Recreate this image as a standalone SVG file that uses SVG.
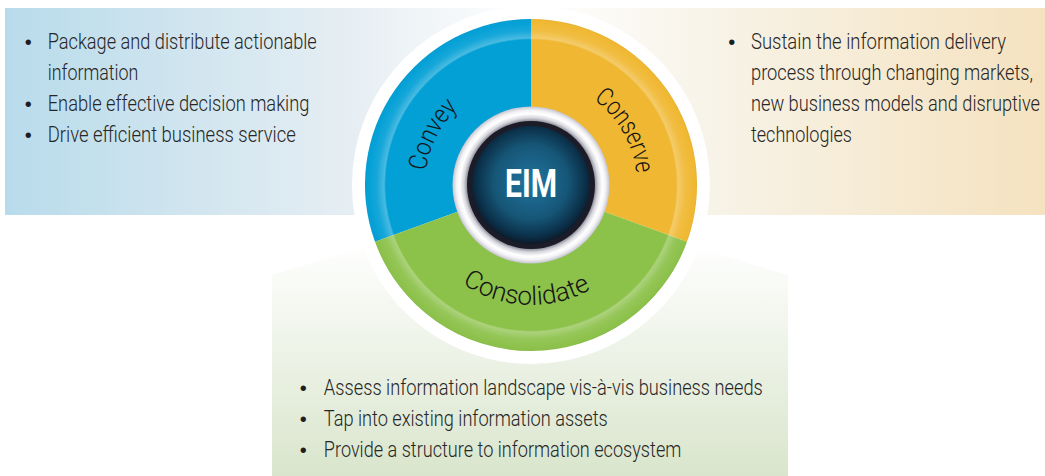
<svg xmlns="http://www.w3.org/2000/svg" width="1045" height="476" viewBox="0 0 1045 476">
<style>
.body{font-family:"Liberation Sans Narrow","Roboto","Liberation Sans",sans-serif;font-size:21.5px;font-weight:300;fill:#262626;}
.bul{font-family:"Liberation Sans",sans-serif;font-size:20px;fill:#1e1e1e;text-anchor:middle;}
.arc{font-family:"Liberation Sans Narrow","Roboto","Liberation Sans",sans-serif;font-size:26px;font-weight:300;fill:#151515;}
.eim{font-family:"Liberation Sans Narrow","Roboto","Liberation Sans",sans-serif;font-size:38px;font-weight:bold;fill:#ffffff;text-anchor:middle;}
</style>
<defs>
<linearGradient id="gL" gradientUnits="userSpaceOnUse" x1="5" y1="0" x2="531" y2="0">
<stop offset="0" stop-color="#b8dbeb"/><stop offset="0.66" stop-color="#e6eef3"/><stop offset="1" stop-color="#ffffff"/>
</linearGradient>
<linearGradient id="gR" gradientUnits="userSpaceOnUse" x1="531" y1="0" x2="1045" y2="0">
<stop offset="0" stop-color="#ffffff"/><stop offset="0.35" stop-color="#f7f3e8"/><stop offset="1" stop-color="#f5e2bf"/>
</linearGradient>
<linearGradient id="gB" gradientUnits="userSpaceOnUse" x1="0" y1="240" x2="0" y2="476">
<stop offset="0" stop-color="#ffffff"/><stop offset="1" stop-color="#d9e5cc"/>
</linearGradient>
<radialGradient id="gRim" gradientUnits="userSpaceOnUse" cx="531" cy="185" r="166">
<stop offset="0.875" stop-color="#ffffff" stop-opacity="0"/>
<stop offset="0.885" stop-color="#ffffff" stop-opacity="0.28"/>
<stop offset="0.93" stop-color="#ffffff" stop-opacity="0.08"/>
<stop offset="0.985" stop-color="#ffffff" stop-opacity="0"/>
<stop offset="1" stop-color="#000000" stop-opacity="0.05"/>
</radialGradient>
<radialGradient id="gRing" gradientUnits="userSpaceOnUse" cx="531" cy="185" r="80">
<stop offset="0.78" stop-color="#6f6f7c"/>
<stop offset="0.84" stop-color="#d6d6dd"/>
<stop offset="0.89" stop-color="#ffffff"/>
<stop offset="0.93" stop-color="#f4f4f7"/>
<stop offset="1" stop-color="#b4b4c0"/>
</radialGradient>
<radialGradient id="gCore" gradientUnits="userSpaceOnUse" cx="531" cy="182" r="62">
<stop offset="0" stop-color="#22749e"/>
<stop offset="0.6" stop-color="#165677"/>
<stop offset="0.88" stop-color="#0b3049"/>
<stop offset="1" stop-color="#0d1a28"/>
</radialGradient>
<path id="pConvey" d="M442.1,242.7 A106,106 0 0,1 525.5,79.1"/>
<path id="pConserve" d="M531,79 A106,106 0 0,1 622.8,238"/>
<path id="pConsolidate" d="M416.6,221.1 A120,120 0 0,0 641.9,230.9"/>
</defs>

<g id="panel-convey">
<rect x="5" y="8" width="526" height="207" fill="url(#gL)"/>
</g>
<g id="panel-conserve">
<rect x="531" y="8" width="514" height="207" fill="url(#gR)"/>
</g>
<g id="panel-consolidate">
<polygon points="272,275 530,197 788,275 788,476 272,476" fill="url(#gB)"/>
</g>

<g id="wheel">
<circle cx="531" cy="185" r="179" fill="#ffffff"/>
<path id="seg-convey" d="M531,185 L531,19 A166,166 0 0,0 375,241.8 Z" fill="#03a0d6"/>
<path id="seg-conserve" d="M531,185 L531,19 A166,166 0 0,1 687,241.8 Z" fill="#f0b832"/>
<path id="seg-consolidate" d="M531,185 L687,241.8 A166,166 0 0,1 375,241.8 Z" fill="#8cc14a"/>
<circle cx="531" cy="185" r="166" fill="url(#gRim)"/>
</g>

<g id="hub">
<circle cx="531" cy="185" r="78.5" fill="url(#gRing)"/>
<circle cx="531" cy="185" r="64" fill="#1c1c28"/>
<circle cx="531" cy="185" r="59" fill="url(#gCore)"/>
<text class="eim" x="531" y="196.7" textLength="52" lengthAdjust="spacingAndGlyphs">EIM</text>
</g>

<g id="label-convey">
<text class="arc"><textPath href="#pConvey" startOffset="50%" text-anchor="middle" textLength="72" lengthAdjust="spacingAndGlyphs">Convey</textPath></text>
</g>
<g id="label-conserve">
<text class="arc"><textPath href="#pConserve" startOffset="50%" text-anchor="middle" textLength="88" lengthAdjust="spacingAndGlyphs">Conserve</textPath></text>
</g>
<g id="label-consolidate">
<text class="arc"><textPath href="#pConsolidate" startOffset="50%" text-anchor="middle" textLength="136" lengthAdjust="spacingAndGlyphs">Consolidate</textPath></text>
</g>

<g id="text-convey">
<text class="bul" x="28.3" y="49.3">•</text>
<text class="bul" x="28.3" y="111">•</text>
<text class="bul" x="28.3" y="141.7">•</text>
<g transform="translate(47.7,0) scale(0.85,1)">
<text class="body" x="0" y="49.3" textLength="316.5" lengthAdjust="spacingAndGlyphs">Package and distribute actionable</text>
<text class="body" x="0" y="80" textLength="106.7" lengthAdjust="spacingAndGlyphs">information</text>
<text class="body" x="0" y="111" textLength="307.9" lengthAdjust="spacingAndGlyphs">Enable effective decision making</text>
<text class="body" x="0" y="141.7" textLength="291.8" lengthAdjust="spacingAndGlyphs">Drive efficient business service</text>
</g>
</g>

<g id="text-conserve">
<text class="bul" x="731.7" y="49.3">•</text>
<g transform="translate(751,0) scale(0.85,1)">
<text class="body" x="0" y="49.3" textLength="300" lengthAdjust="spacingAndGlyphs">Sustain the information delivery</text>
<text class="body" x="0" y="80" textLength="331.8" lengthAdjust="spacingAndGlyphs">process through changing markets,</text>
<text class="body" x="0" y="111" textLength="340" lengthAdjust="spacingAndGlyphs">new business models and disruptive</text>
<text class="body" x="0" y="141.7" textLength="118.8" lengthAdjust="spacingAndGlyphs">technologies</text>
</g>
</g>

<g id="text-consolidate">
<text class="bul" x="303.3" y="395">•</text>
<text class="bul" x="303.3" y="426">•</text>
<text class="bul" x="303.3" y="457">•</text>
<g transform="translate(323.8,0) scale(0.85,1)">
<text class="body" x="0" y="395" textLength="516.5" lengthAdjust="spacingAndGlyphs">Assess information landscape vis-à-vis business needs</text>
<text class="body" x="0" y="426" textLength="334.1" lengthAdjust="spacingAndGlyphs">Tap into existing information assets</text>
<text class="body" x="0" y="457" textLength="420.6" lengthAdjust="spacingAndGlyphs">Provide a structure to information ecosystem</text>
</g>
</g>
<g id="connectors"></g>
</svg>
